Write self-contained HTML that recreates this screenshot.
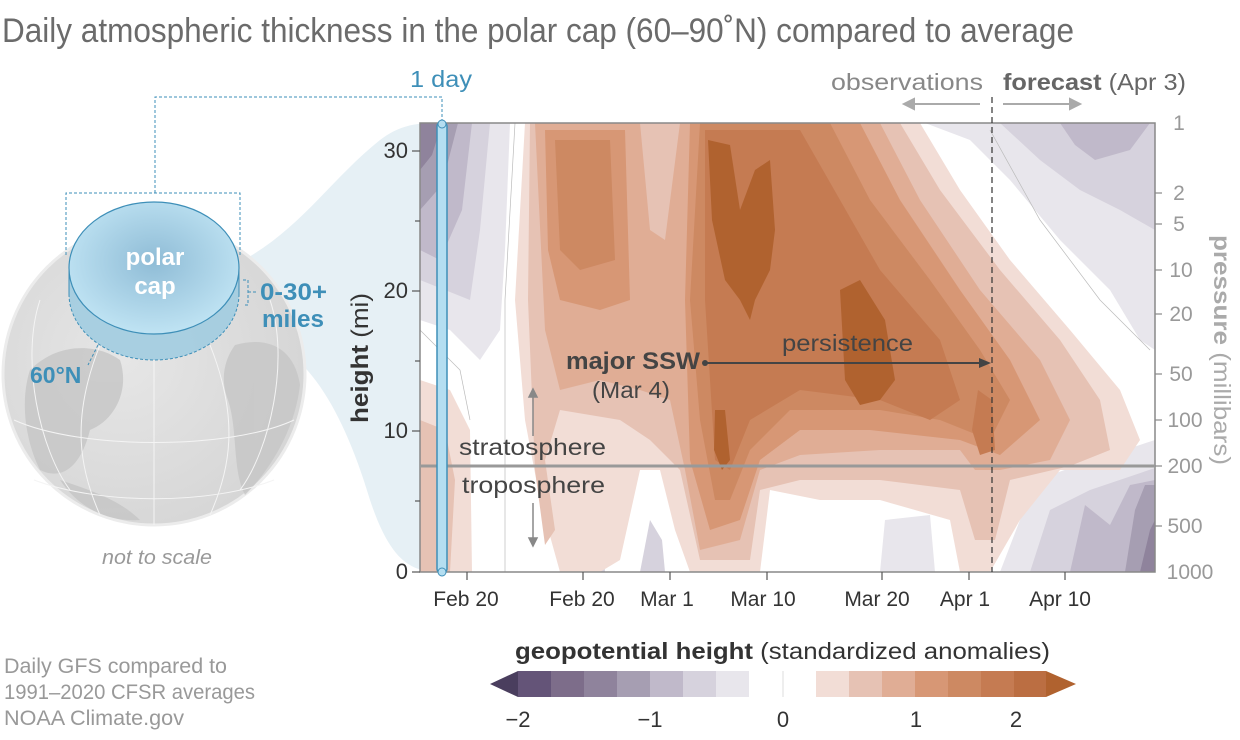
<!DOCTYPE html>
<html><head><meta charset="utf-8"><style>
html,body{margin:0;padding:0;background:#fff;}
svg{display:block;font-family:"Liberation Sans",sans-serif;}
</style></head><body>
<svg width="1240" height="740" viewBox="0 0 1240 740" xmlns="http://www.w3.org/2000/svg">
<defs>
<radialGradient id="globe" cx="0.4" cy="0.45" r="0.6"><stop offset="0" stop-color="#e6e6e6"/><stop offset="1" stop-color="#d6d6d6"/></radialGradient>
<radialGradient id="cap" cx="0.5" cy="0.45" r="0.55"><stop offset="0" stop-color="#8fbcd6"/><stop offset="1" stop-color="#bfe3f3"/></radialGradient>
<clipPath id="plot"><rect x="420" y="123" width="735" height="449"/></clipPath>
</defs>
<text x="2" y="42" font-size="34" fill="#6b6b6b" textLength="1072" lengthAdjust="spacingAndGlyphs">Daily atmospheric thickness in the polar cap (60–90˚N) compared to average</text>

<!-- funnel -->
<path d="M240,262 C300,230 330,180 380,140 C400,125 415,123 440,123 L440,572 C410,572 390,560 370,500 C340,400 300,340 240,330 Z" fill="#e6f0f5"/>

<!-- globe -->
<circle cx="154" cy="374" r="151" fill="url(#globe)" stroke="#ececec" stroke-width="3"/>
<g fill="#c6c6c6" opacity="0.8">
<path d="M30,370 C60,340 100,345 120,360 C130,390 115,420 90,430 C80,470 60,480 40,470 C25,440 20,400 30,370Z"/>
<path d="M235,345 C270,335 295,350 300,385 C295,430 270,470 245,495 C232,470 238,430 228,400 C220,380 224,360 235,345Z"/>
<path d="M60,480 C90,490 120,500 140,520 C110,522 80,510 60,480Z"/>
</g>
<g fill="none" stroke="#f4f4f4" stroke-width="1">
<path d="M154,360 L154,525 M100,345 C70,420 80,470 100,515 M210,345 C240,420 230,470 210,515 M40,300 C20,360 40,450 70,490 M270,300 C290,360 270,450 240,490"/>
<path d="M14,420 C80,450 230,450 294,420"/>
<path d="M34,480 C100,505 210,505 274,480"/>
</g>
<!-- cap -->
<path d="M69,268 L69,294 A85,66 0 0 0 239,294 L239,268 Z" fill="#9ecbe0" opacity="0.85"/>
<path d="M69,294 A85,66 0 0 0 239,294" fill="none" stroke="#3e8fb8" stroke-width="1" stroke-dasharray="3,2"/>
<ellipse cx="154" cy="268" rx="85" ry="66" fill="url(#cap)" stroke="#3e8fb8" stroke-width="1.2"/>
<line x1="69" y1="268" x2="69" y2="294" stroke="#3e8fb8"/>
<line x1="239" y1="268" x2="239" y2="294" stroke="#3e8fb8"/>
<text x="155" y="265" font-size="24" font-weight="bold" fill="#fff" text-anchor="middle">polar</text>
<text x="155" y="294" font-size="24" font-weight="bold" fill="#fff" text-anchor="middle">cap</text>
<g fill="none" stroke="#3e8fb8" stroke-width="1" stroke-dasharray="3,2">
<path d="M66,255 L66,193 L240,193 L240,255"/>
<path d="M155,193 L155,97 L442,97 L442,123"/>
<path d="M243,280 L248,280 L248,305 L243,305 M248,292 L258,292"/>
<path d="M98,345 L88,365"/>
</g>
<text x="260" y="300" font-size="24" font-weight="bold" fill="#3e8fb8" textLength="67" lengthAdjust="spacingAndGlyphs">0-30+</text>
<text x="262" y="327" font-size="24" font-weight="bold" fill="#3e8fb8" textLength="62" lengthAdjust="spacingAndGlyphs">miles</text>
<text x="30" y="383" font-size="23" font-weight="bold" fill="#3e8fb8">60°N</text>
<text x="157" y="564" font-size="20" font-style="italic" fill="#999" text-anchor="middle" textLength="110" lengthAdjust="spacingAndGlyphs">not to scale</text>

<!-- plot -->
<rect x="420" y="123" width="735" height="449" fill="#fff"/>
<g clip-path="url(#plot)" stroke="none">
<path fill="#e8e6ec" d="M420,123 L510,123 L505,250 L500,330 L480,360 L450,330 L420,320Z"/>
<path fill="#d6d2dd" d="M420,123 L490,123 L480,230 L470,300 L445,290 L420,280Z"/>
<path fill="#c0b9ca" d="M420,123 L472,123 L462,210 L440,260 L420,250Z"/>
<path fill="#a69eb2" d="M420,123 L458,123 L442,185 L420,210Z"/>
<path fill="#8f839c" d="M420,123 L442,123 L432,155 L420,170Z"/>
<path fill="#e8e6ec" d="M925,123 L1155,123 L1155,350 L1140,340 L1110,290 L1060,240 L1010,180 L970,140Z"/>
<path fill="#e8e6ec" d="M1000,572 L1020,520 L1050,475 L1100,458 L1155,440 L1155,572Z"/>
<path fill="#d6d2dd" d="M1000,123 L1155,123 L1155,230 L1120,210 L1080,190 L1040,160Z"/>
<path fill="#d6d2dd" d="M1030,572 L1050,510 L1090,490 L1155,468 L1155,572Z"/>
<path fill="#c0b9ca" d="M1060,123 L1150,123 L1130,150 L1095,160 L1075,145Z"/>
<path fill="#c0b9ca" d="M1070,572 L1085,505 L1110,525 L1130,485 L1155,480 L1155,572Z"/>
<path fill="#a69eb2" d="M1125,572 L1135,510 L1145,485 L1155,485 L1155,572Z"/>
<path fill="#8f839c" d="M1140,572 L1150,530 L1155,520 L1155,572Z"/>
<path fill="#d6d2dd" d="M575,572 L585,510 L600,500 L605,572Z"/>
<path fill="#d6d2dd" d="M640,572 L650,520 L662,540 L665,572Z"/>
<path fill="#e8e6ec" d="M880,572 L885,520 L930,515 L935,572Z"/>
<path fill="#f2ddd6" d="M525,123 L920,123 L960,190 L1010,260 L1070,330 L1120,390 L1140,440 L1120,470 L1060,470 L1020,520 L990,572 L960,572 L950,520 L880,500 L820,500 L770,490 L760,572 L690,572 L675,530 L660,470 L640,470 L620,560 L600,572 L560,572 L540,500 L525,420 L515,300Z"/>
<path fill="#f2ddd6" d="M420,380 L450,390 L470,430 L472,572 L420,572Z"/>
<path fill="#e6c2b4" d="M420,420 L445,430 L455,480 L450,572 L420,572Z"/>
<path fill="#e6c2b4" d="M530,123 L900,123 L940,190 L1000,270 L1060,340 L1100,400 L1110,450 L1070,466 L1010,480 L995,540 L975,540 L960,490 L880,480 L800,480 L760,490 L750,560 L700,560 L680,470 L650,440 L620,420 L560,410 L545,460 L555,530 L545,545 L535,470 L528,300Z"/>
<path fill="#e0ad95" d="M535,123 L640,123 L650,230 L665,240 L680,123 L880,123 L920,200 L980,290 L1040,360 L1070,420 L1050,460 L1000,470 L975,470 L960,450 L880,450 L800,455 L760,470 L740,540 L700,550 L685,470 L670,400 L640,390 L600,380 L560,390 L545,330Z"/>
<path fill="#d79775" d="M545,130 L625,130 L630,300 L600,310 L560,300 L548,250Z"/>
<path fill="#d79775" d="M690,123 L860,123 L900,200 L960,290 L1010,360 L1040,420 L1000,455 L960,440 L870,430 L800,430 L760,460 L740,520 L710,530 L690,460 L685,300Z"/>
<path fill="#cd8962" d="M555,140 L610,140 L615,260 L580,270 L560,250Z"/>
<path fill="#cd8962" d="M700,123 L830,123 L870,200 L930,280 L980,350 L1010,400 L990,440 L940,420 L880,410 L790,410 L750,450 L730,500 L715,500 L700,420 L690,300Z"/>
<path fill="#c57b52" d="M705,130 L800,130 L840,200 L880,270 L940,340 L960,400 L930,420 L880,400 L800,390 L750,420 L730,470 L715,460 L705,300Z"/>
<path fill="#b0622f" d="M708,140 L730,145 L740,210 L755,170 L770,160 L775,230 L770,270 L755,300 L750,320 L740,300 L725,280 L712,220Z"/>
<path fill="#b0622f" d="M840,290 L860,280 L885,320 L895,380 L880,400 L860,405 L845,380Z"/>
<path fill="#b0622f" d="M715,410 L725,410 L730,460 L722,470 L714,450Z"/>
<path fill="#c57b52" d="M978,390 L992,400 L995,450 L980,455 L972,430Z"/>
<g fill="none" stroke="#bbb" stroke-width="0.7">
<path d="M515,123 L505,300 L505,572"/>
<path d="M990,130 L1040,220 L1100,300 L1150,350"/>
<path d="M420,330 L460,370 L470,420"/>
</g>
</g>
<rect x="420" y="123" width="735" height="449" fill="none" stroke="#888" stroke-width="1.5"/>
<line x1="420" y1="466" x2="1155" y2="466" stroke="#999" stroke-width="3"/>
<line x1="992" y1="97" x2="992" y2="572" stroke="#333" stroke-width="1.2" stroke-dasharray="6,4"/>

<rect x="437" y="123" width="10" height="449" rx="3" fill="#b4def1" stroke="#3e8fb8" stroke-width="1.5"/>
<circle cx="442" cy="124" r="4" fill="#b4def1" stroke="#3e8fb8"/>
<circle cx="442" cy="572" r="4" fill="#b4def1" stroke="#3e8fb8"/>
<text x="410" y="87" font-size="23" fill="#3e8fb8" textLength="62" lengthAdjust="spacingAndGlyphs">1 day</text>

<g stroke="#555" stroke-width="1.2">
<line x1="412" y1="151" x2="420" y2="151"/><line x1="412" y1="291" x2="420" y2="291"/><line x1="412" y1="431" x2="420" y2="431"/><line x1="412" y1="572" x2="420" y2="572"/>
<line x1="415" y1="221" x2="420" y2="221"/><line x1="415" y1="361" x2="420" y2="361"/><line x1="415" y1="501" x2="420" y2="501"/>
</g>
<g font-size="22" fill="#333" text-anchor="end">
<text x="408" y="158">30</text><text x="408" y="298">20</text><text x="408" y="438">10</text><text x="408" y="579">0</text>
</g>
<text transform="translate(368,358) rotate(-90)" font-size="24" fill="#333" text-anchor="middle" textLength="130" lengthAdjust="spacingAndGlyphs"><tspan font-weight="bold">height</tspan> (mi)</text>

<g stroke="#888" stroke-width="1.2">
<line x1="1155" y1="193" x2="1162" y2="193"/><line x1="1155" y1="224" x2="1162" y2="224"/><line x1="1155" y1="270" x2="1162" y2="270"/><line x1="1155" y1="314" x2="1162" y2="314"/><line x1="1155" y1="374" x2="1162" y2="374"/><line x1="1155" y1="420" x2="1162" y2="420"/><line x1="1155" y1="466" x2="1162" y2="466"/><line x1="1155" y1="526" x2="1162" y2="526"/>
</g>
<g font-size="21" fill="#999" text-anchor="middle">
<text x="1179" y="130">1</text><text x="1179" y="200">2</text><text x="1179" y="231">5</text><text x="1181" y="277">10</text><text x="1181" y="321">20</text><text x="1181" y="381">50</text><text x="1185" y="427">100</text><text x="1185" y="473">200</text><text x="1185" y="533">500</text><text x="1190" y="579">1000</text>
</g>
<text transform="translate(1214,350) rotate(90)" font-size="23" fill="#aaa" text-anchor="middle" textLength="230" lengthAdjust="spacingAndGlyphs"><tspan font-weight="bold">pressure</tspan> (millibars)</text>

<g stroke="#555" stroke-width="1.2">
<line x1="467" y1="572" x2="467" y2="580"/><line x1="583" y1="572" x2="583" y2="580"/><line x1="670" y1="572" x2="670" y2="580"/><line x1="767" y1="572" x2="767" y2="580"/><line x1="882" y1="572" x2="882" y2="580"/><line x1="969" y1="572" x2="969" y2="580"/><line x1="1065" y1="572" x2="1065" y2="580"/>
</g>
<g font-size="21" fill="#333" text-anchor="middle">
<text x="466" y="606">Feb 20</text><text x="582" y="606">Feb 20</text><text x="667" y="606">Mar 1</text><text x="763" y="606">Mar 10</text><text x="877" y="606">Mar 20</text><text x="965" y="606">Apr 1</text><text x="1060" y="606">Apr 10</text>
</g>

<text x="831" y="90" font-size="23" fill="#888" textLength="152" lengthAdjust="spacingAndGlyphs">observations</text>
<text x="1003" y="90" font-size="23" fill="#666" textLength="183" lengthAdjust="spacingAndGlyphs"><tspan font-weight="bold">forecast</tspan> (Apr 3)</text>
<g stroke="#aaa" stroke-width="2" fill="#aaa">
<line x1="980" y1="104" x2="912" y2="104"/><path d="M904,104 L914,99 L914,109Z"/>
<line x1="1003" y1="104" x2="1072" y2="104"/><path d="M1080,104 L1070,99 L1070,109Z"/>
</g>

<text x="566" y="369" font-size="24" font-weight="bold" fill="#444" textLength="134" lengthAdjust="spacingAndGlyphs">major SSW</text>
<text x="592" y="398" font-size="23" fill="#444" textLength="78" lengthAdjust="spacingAndGlyphs">(Mar 4)</text>
<text x="782" y="351" font-size="23" fill="#444" textLength="131" lengthAdjust="spacingAndGlyphs">persistence</text>
<circle cx="705" cy="363" r="3" fill="#444"/>
<line x1="705" y1="363" x2="982" y2="363" stroke="#444" stroke-width="2"/>
<path d="M991,363 L979,358 L979,368Z" fill="#444"/>
<text x="459" y="455" font-size="23" fill="#444" textLength="147" lengthAdjust="spacingAndGlyphs">stratosphere</text>
<text x="462" y="493" font-size="23" fill="#444" textLength="143" lengthAdjust="spacingAndGlyphs">troposphere</text>
<g stroke="#888" stroke-width="1.5" fill="#888">
<line x1="533" y1="436" x2="533" y2="395"/><path d="M533,389 L529,397 L537,397Z"/>
<line x1="533" y1="503" x2="533" y2="540"/><path d="M533,546 L529,538 L537,538Z"/>
</g>

<text x="515" y="659" font-size="23" fill="#333" textLength="535" lengthAdjust="spacingAndGlyphs"><tspan font-weight="bold">geopotential height</tspan> (standardized anomalies)</text>
<path d="M490,684 L518,671 L518,697Z" fill="#4a3e5e"/>
<g>
<rect x="518" y="671" width="34" height="26" fill="#645478"/>
<rect x="551" y="671" width="34" height="26" fill="#7d6d8a"/>
<rect x="584" y="671" width="34" height="26" fill="#8f839c"/>
<rect x="617" y="671" width="34" height="26" fill="#a69eb2"/>
<rect x="650" y="671" width="34" height="26" fill="#c0b9ca"/>
<rect x="683" y="671" width="34" height="26" fill="#d6d2dd"/>
<rect x="716" y="671" width="34" height="26" fill="#e8e6ec"/>
<rect x="749" y="671" width="67" height="26" fill="#fff"/>
<rect x="816" y="671" width="34" height="26" fill="#f2ddd6"/>
<rect x="849" y="671" width="34" height="26" fill="#e6c2b4"/>
<rect x="882" y="671" width="34" height="26" fill="#e0ad95"/>
<rect x="915" y="671" width="34" height="26" fill="#d79775"/>
<rect x="948" y="671" width="34" height="26" fill="#cd8962"/>
<rect x="981" y="671" width="34" height="26" fill="#c57b52"/>
<rect x="1014" y="671" width="32" height="26" fill="#bb6e42"/>
</g>
<line x1="783" y1="671" x2="783" y2="697" stroke="#ddd"/>
<path d="M1046,671 L1076,684 L1046,697Z" fill="#b0622f"/>
<g font-size="22" fill="#333" text-anchor="middle">
<text x="518" y="727">−2</text><text x="650" y="727">−1</text><text x="783" y="727">0</text><text x="916" y="727">1</text><text x="1016" y="727">2</text>
</g>

<g font-size="21" fill="#999">
<text x="4" y="673" textLength="223" lengthAdjust="spacingAndGlyphs">Daily GFS compared to</text>
<text x="4" y="699" textLength="251" lengthAdjust="spacingAndGlyphs">1991–2020 CFSR averages</text>
<text x="4" y="725" textLength="180" lengthAdjust="spacingAndGlyphs">NOAA Climate.gov</text>
</g>
</svg>
</body></html>
